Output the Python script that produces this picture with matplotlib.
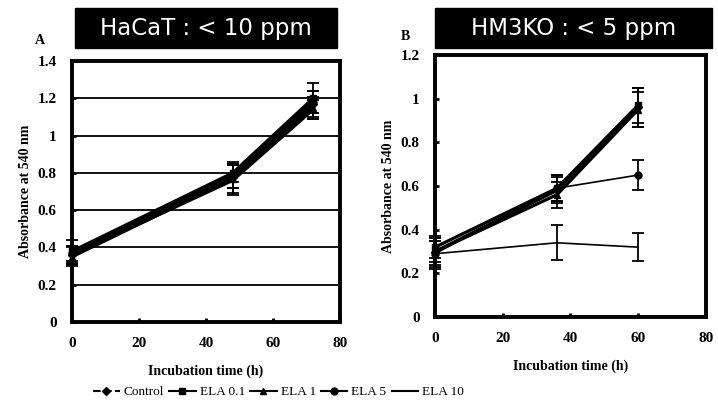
import matplotlib
matplotlib.use("Agg")
import matplotlib.pyplot as plt
from matplotlib.patches import Rectangle

# HaCaT panel
x_a = [0, 48, 72]
hacat = {
    "Control": ([0.36, 0.78, 1.17], [0.05, 0.06, 0.07]),
    "ELA 0.1": ([0.38, 0.80, 1.20], [0.06, 0.05, 0.08]),
    "ELA 1": ([0.35, 0.77, 1.15], [0.05, 0.08, 0.06]),
    "ELA 5": ([0.37, 0.79, 1.18], [0.04, 0.07, 0.06]),
    "ELA 10": ([0.36, 0.76, 1.14], [0.05, 0.08, 0.05]),
}

# HM3KO panel
x_b = [0, 36, 60]
hm3ko = {
    "Control": ([0.30, 0.58, 0.96], [0.05, 0.06, 0.09]),
    "ELA 0.1": ([0.32, 0.59, 0.97], [0.05, 0.06, 0.08]),
    "ELA 1": ([0.30, 0.56, 0.95], [0.06, 0.06, 0.08]),
    "ELA 5": ([0.29, 0.59, 0.65], [0.06, 0.06, 0.07]),
    "ELA 10": ([0.29, 0.34, 0.32], [0.07, 0.08, 0.065]),
}

styles = {
    "Control": dict(marker="D", ls="--", ms=4),
    "ELA 0.1": dict(marker="s", ls="-", ms=5),
    "ELA 1": dict(marker="^", ls="-", ms=5),
    "ELA 5": dict(marker="o", ls="-", ms=5),
    "ELA 10": dict(marker="", ls="-", ms=0),
}

serif = "Liberation Serif"
fig = plt.figure(figsize=(7.18, 4.07), dpi=100)


def panel(ax, x, data, ymax, grid, thin):
    for name, (y, e) in data.items():
        st = styles[name]
        lw = 1.2 if name in thin else 2.3
        ax.errorbar(x, y, yerr=e, color="black", lw=lw, ls="-",
                    marker=st["marker"], ms=st["ms"], capsize=4,
                    elinewidth=1.3, capthick=1.3, clip_on=False)
    ax.set_xlim(0, 80)
    ax.set_ylim(0, ymax)
    ax.set_xticks([0, 20, 40, 60, 80])
    ticks = [round(v * 0.2, 1) for v in range(int(round(ymax / 0.2)) + 1)]
    ax.set_yticks(ticks)
    ax.set_yticklabels([f"{t:g}" for t in ticks])
    if grid:
        ax.grid(axis="y", color="black", lw=1.3)
    ax.tick_params(direction="in", length=3, width=2, pad=11)
    for lab in ax.get_xticklabels() + ax.get_yticklabels():
        lab.set_fontfamily(serif)
        lab.set_fontweight("bold")
        lab.set_fontsize(11)
    for s in ax.spines.values():
        s.set_linewidth(2.8)
    ax.set_xlabel("Incubation time (h)", family=serif, weight="bold", fontsize=10, labelpad=10)
    ax.set_ylabel("Absorbance at 540 nm", family=serif, weight="bold", fontsize=10, labelpad=4)


ax1 = fig.add_axes([0.1003, 0.2088, 0.373, 0.641])
panel(ax1, x_a, hacat, 1.4, True, ())
ax2 = fig.add_axes([0.606, 0.221, 0.377, 0.644])
panel(ax2, x_b, hm3ko, 1.2, False, ("ELA 5", "ELA 10"))

# title boxes
for x0, x1, title in [(75, 337, "HaCaT : < 10 ppm"), (435, 712, "HM3KO : < 5 ppm")]:
    fig.patches.append(Rectangle((x0 / 718, (407 - 48) / 407), (x1 - x0) / 718, 40 / 407,
                                 transform=fig.transFigure, color="black"))
    fig.text((x0 + x1) / 2 / 718, (407 - 28) / 407, title, color="white",
             ha="center", va="center", fontsize=16.5, family="DejaVu Sans")

fig.text(40 / 718, 1 - 41 / 407, "A", family=serif, weight="bold", fontsize=10, ha="center", va="center")
fig.text(405 / 718, 1 - 36 / 407, "B", family=serif, weight="bold", fontsize=10, ha="center", va="center")

handles = []
labels = []
for name in styles:
    st = styles[name]
    h, = ax1.plot([], [], color="black", lw=1.5, ls=st["ls"], marker=st["marker"], ms=st["ms"])
    handles.append(h)
    labels.append(name)
fig.legend(handles, labels, loc="center", bbox_to_anchor=(0.388, 0.036), ncol=5,
           frameon=False, prop={"family": serif, "size": 9.5}, handlelength=2.0,
           columnspacing=0.4, handletextpad=0.3)

fig.savefig("out.png", dpi=100)
